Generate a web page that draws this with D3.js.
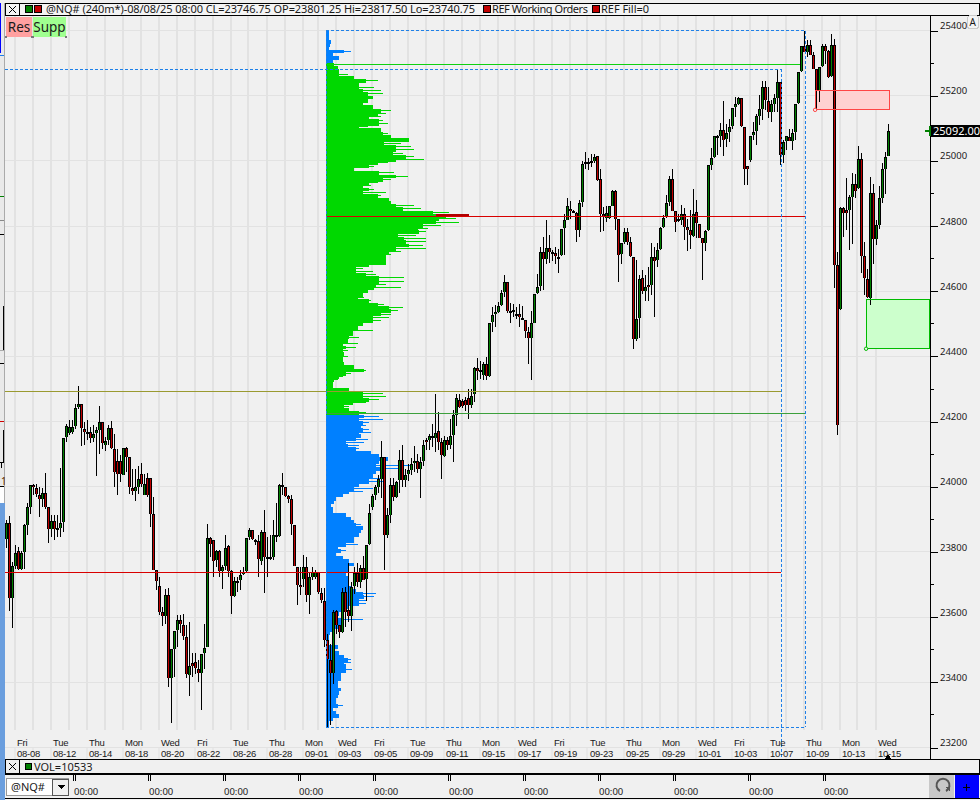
<!DOCTYPE html>
<html><head><meta charset="utf-8">
<script src="https://cdn.jsdelivr.net/npm/d3@7/dist/d3.min.js"></script>
<style>html,body{margin:0;padding:0;background:#f0f0f0}svg{display:block}text{font-family:"Noto Sans",Tahoma,sans-serif;fill:#1a1a1a}</style>
</head><body><div id="c"></div>
<script>
const dayNames=["Fri","Tue","Thu","Mon","Wed","Fri","Tue","Thu","Mon","Wed","Fri","Tue","Thu","Mon","Wed","Fri","Tue","Thu","Mon","Wed","Fri","Tue","Thu","Mon","Wed"];
const dateNames=["08-08","08-12","08-14","08-18","08-20","08-22","08-26","08-28","09-01","09-03","09-05","09-09","09-11","09-15","09-17","09-19","09-23","09-25","09-29","10-01","10-03","10-07","10-09","10-13","10-15"];
const dateBars=[3,15,27,39,51,63,75,87,99,110,122,134,146,158,170,182,194,206,218,230,242,254,266,278,290];
const priceTicks=[25400,25200,25000,24800,24600,24400,24200,24000,23800,23600,23400,23200];
const minorTicks=[25300,25100,24900,24700,24500,24300,24100,23900,23700,23500,23300];
const timeLabels=["00:00","00:00","00:00","00:00","00:00","00:00","00:00","00:00","00:00","00:00","00:00"];

// [open, high, low, close] per 240-minute bar
const ohlcAug=[[23831,23887,23801,23880],[23880,23900,23609,23649],[23649,23760,23557,23748],[23748,23811,23739,23788],[23792,23806,23734,23738],[23738,23793,23736,23788],[23790,23877,23739,23872],[23873,23939,23841,23927],[23928,23994,23906,23994],[23994,23998,23964,23988],[23985,24000,23959,23967],[23966,23990,23898,23953],[23953,23985,23928,23972],[23972,24031,23923,23928],[23927,23927,23818,23859],[23860,23903,23836,23886],[23886,23903,23826,23860],[23862,23903,23836,23859],[23862,24049,23836,23880],[23882,24141,23852,24141],[24143,24182,24128,24178],[24156,24194,24148,24172],[24158,24194,24153,24172],[24177,24245,24166,24233],[24235,24299,24230,24245],[24245,24245,24116,24169],[24166,24189,24118,24158],[24158,24194,24133,24157],[24158,24174,24125,24141],[24141,24179,24128,24153],[24155,24174,24022,24163],[24164,24237,24090,24190],[24190,24190,24107,24123],[24119,24143,24100,24129],[24134,24179,24118,24169],[24169,24192,24107,24109],[24107,24153,23990,24036],[24068,24107,23964,24028],[24068,24087,24005,24028],[24025,24110,24025,24110],[24108,24112,24036,24082],[24080,24082,23969,23990],[23985,24046,23964,23977],[23977,24046,23947,23988],[23990,24053,23969,24015],[24028,24063,23990,23998],[23965,24028,23964,23997],[24017,24031,23959,23964],[24017,24017,23867,23907],[23905,23959,23734,23734],[23734,23734,23673,23702],[23687,23712,23596,23606],[23606,23621,23563,23595],[23595,23676,23570,23659],[23659,23678,23376,23402],[23404,23491,23264,23491],[23493,23546,23407,23546],[23550,23596,23499,23580],[23580,23596,23540,23569],[23567,23601,23519,23532],[23530,23565,23402,23416],[23413,23575,23348,23441],[23448,23480,23407,23441],[23451,23480,23417,23435],[23432,23460,23391,23419],[23419,23478,23306,23478],[23480,23570,23432,23494],[23499,23877,23499,23834],[23834,23836,23775,23813],[23828,23828,23714,23763],[23765,23795,23744,23792],[23792,23795,23714,23732],[23733,23749,23675,23745],[23747,23843,23734,23803],[23808,23811,23714,23732],[23732,23734,23601,23656],[23654,23714,23652,23702],[23702,23714,23668,23700],[23705,23734,23673,23720],[23723,23744,23719,23730],[23732,23834,23729,23834],[23835,23862,23828,23856],[23856,23857,23826,23831],[23828,23831,23811,23826],[23824,23841,23714,23767],[23763,23857,23749,23850],[23850,23918,23664,23775],[23775,23836,23714,23772],[23771,23841,23765,23776],[23773,23889,23765,23842],[23842,23939,23821,23839],[23840,24000,23836,23994],[23994,24031,23964,23992],[23988,23990,23959,23963],[23961,23964,23939,23953],[23951,23964,23841,23876],[23874,23874,23747,23747],[23745,23745,23627,23689],[23688,23744,23657,23683],[23707,23780,23683,23744],[23744,23775,23637,23659],[23659,23729,23601,23712],[23712,23744,23703,23729],[23714,23734,23708,23730],[23730,23730,23662,23667],[23665,23678,23634,23642],[23641,23678,23499,23519]];
const ohlcSep=[[23519,23538,23253,23462],[23458,23507,23258,23419],[23419,23613,23384,23607],[23610,23613,23538,23566],[23565,23565,23526,23545],[23545,23680,23540,23667],[23667,23683,23560,23607],[23611,23755,23576,23595],[23594,23698,23548,23684],[23686,23744,23660,23724],[23726,23757,23681,23698],[23699,23749,23678,23741],[23742,23777,23703,23703],[23708,23811,23640,23811],[23813,23936,23811,23911],[23928,23969,23918,23963],[23965,23995,23949,23988],[23990,24026,23971,24013],[24015,24129,23956,24080],[24080,24080,23734,23842],[23842,23925,23832,23902],[23904,24018,23879,23994],[23996,24018,23947,23960],[23959,24008,23957,24006],[24012,24104,23971,24073],[24073,24118,23988,24012],[24012,24046,23988,24025],[24029,24061,24008,24041],[24042,24077,24026,24061],[24064,24115,24036,24070],[24070,24090,24031,24045],[24045,24082,23956,24067],[24070,24135,24054,24117],[24132,24140,24102,24128],[24135,24153,24104,24147],[24147,24182,24112,24143],[24139,24274,24097,24155],[24160,24220,24102,24128],[24126,24141,24014,24089],[24083,24145,24082,24135],[24135,24143,24102,24117],[24117,24199,24107,24146],[24150,24225,24066,24209],[24209,24274,24176,24261],[24256,24274,24233,24235],[24254,24258,24233,24237],[24256,24266,24223,24240],[24262,24291,24197,24242],[24242,24291,24232,24270],[24276,24358,24251,24353],[24353,24386,24317,24346],[24346,24375,24322,24348],[24332,24373,24319,24368],[24368,24389,24317,24330],[24329,24494,24327,24494],[24495,24542,24465,24518],[24519,24547,24481,24527],[24527,24557,24524,24546],[24547,24593,24545,24586],[24588,24639,24573,24617],[24617,24617,24524,24529],[24529,24554,24493,24526],[24531,24552,24511,24529],[24521,24542,24506,24518],[24521,24552,24481,24511],[24509,24544,24504,24504],[24503,24503,24447,24468],[24466,24481,24368,24448],[24448,24530,24317,24491],[24491,24583,24491,24583],[24585,24644,24583,24604],[24606,24726,24590,24709],[24709,24757,24593,24689],[24689,24808,24675,24724],[24724,24762,24677,24709],[24709,24716,24683,24707],[24706,24726,24675,24698],[24696,24721,24646,24693],[24700,24782,24697,24782],[24784,24828,24700,24808],[24810,24877,24808,24853],[24841,24867,24813,24836],[24835,24839,24830,24833],[24831,24833,24741,24779],[24779,24871,24757,24862],[24864,24990,24849,24979],[24987,25018,24966,24982],[24985,25000,24963,24983],[24990,25010,24971,24987],[24990,25012,24982,25003],[25006,25006,24929,24931],[24933,24966,24772,24828],[24826,24847,24775,24820]];
const ohlcOct=[[24816,24851,24803,24830],[24816,24853,24813,24853],[24853,24902,24851,24896],[24896,24902,24777,24812],[24812,24812,24619,24702],[24703,24739,24673,24739],[24741,24785,24736,24773],[24773,24785,24731,24741],[24742,24757,24695,24698],[24696,24696,24414,24444],[24444,24687,24438,24506],[24508,24639,24445,24626],[24632,24656,24583,24590],[24591,24639,24560,24603],[24608,24665,24560,24603],[24608,24739,24578,24696],[24696,24726,24511,24684],[24685,24738,24665,24718],[24720,24787,24716,24785],[24787,24823,24785,24816],[24818,24885,24816,24862],[24864,24943,24851,24933],[24933,24966,24835,24836],[24835,24835,24772,24803],[24813,24828,24803,24810],[24810,24854,24792,24826],[24828,24844,24746,24787],[24786,24813,24714,24777],[24777,24839,24721,24763],[24759,24905,24757,24828],[24834,24869,24752,24798],[24795,24795,24752,24752],[24752,24752,24624,24738],[24738,24777,24714,24775],[24777,24976,24775,24976],[24977,25028,24963,25000],[25002,25065,25000,25065],[25065,25068,25007,25063],[25065,25107,25033,25086],[25086,25173,25005,25053],[25058,25104,25033,25077],[25079,25117,25048,25095],[25096,25152,25089,25151],[25155,25186,25125,25163],[25165,25186,25161,25184],[25184,25184,25094,25096],[25095,25095,24915,24966],[24974,24974,24915,24966],[24992,25067,24985,25067],[25068,25109,25053,25080],[25082,25135,25038,25127],[25128,25191,25099,25148],[25150,25234,25115,25218],[25218,25234,25145,25176],[25175,25217,25120,25140],[25140,25176,25109,25166],[25166,25196,25140,25182],[25184,25268,25140,25233],[25233,25233,24976,25009],[25009,25053,24984,25047],[25051,25065,25022,25065],[25063,25089,25051,25051],[25051,25089,25022,25077],[25079,25166,25053,25166],[25168,25264,25166,25264],[25266,25343,25262,25343],[25343,25387,25324,25324],[25324,25360,25308,25346],[25346,25360,25314,25316],[25314,25324,25273,25273],[25271,25271,25150,25208],[25208,25279,25172,25279],[25281,25349,25278,25343],[25343,25349,25288,25326],[25326,25329,25245,25247],[25249,25380,25247,25346],[25346,25365,24599,24670],[24669,24709,24148,24181],[24534,24847,24532,24844],[24844,24847,24757,24831],[24839,24936,24777,24829],[24839,24885,24716,24878],[24880,24953,24735,24918],[24918,24951,24875,24898],[24907,25035,24905,24997],[24997,25015,24645,24699],[24697,24742,24578,24632],[24629,24658,24568,24571],[24568,24941,24547,24890],[24890,24919,24675,24749],[24749,24808,24731,24792],[24794,24912,24781,24875],[24877,24984,24861,24964],[24965,25016,24888,25003],[25006,25103,25005,25083]];
const readingOffset=10; // values above were read against the label centres, which sit 10 points below the tick marks

// Volume profile, top row to bottom row: solid width and thin-spike width per price row
const profileVol=[8,8,8,15,12,10,55,20,38,22,25,35,40,40,85,120,100,100,110,125,140,125,110,140,165,155,130,160,160,100,165,170,195,250,175,210,210,200,240,210,155,130,85,160,210,170,130,110,130,110,155,190,195,210,230,320,360,340,330,290,
275,280,215,235,240,250,210,190,180,180,180,130,90,90,120,160,160,150,145,125,110,95,130,155,190,195,165,140,140,110,95,80,80,70,65,50,60,50,55,50,50,55,85,115,60,40,25,22,20,70,110,110,130,80,55,
70,100,115,100,110,105,110,100,105,90,60,65,90,135,160,185,160,150,165,150,140,130,130,100,85,70,50,30,25,15,20,20,60,75,85,90,110,105,100,85,85,60,35,45,30,50,70,85,70,70,60,65,65,65,75,90,110,115,100,100,70,45,40,35,55,50,40,20,12,10,10,10,35,25,40,55,65,55,60,60,45,45,45,35,35,45,40,35,30,30,35,20,30,40,20,10,8];
const profileSpike=[0,0,0,0,0,0,75,0,0,0,0,0,0,65,0,155,0,145,165,170,0,0,0,0,195,180,165,170,185,125,0,185,0,0,225,255,265,230,265,295,185,145,0,205,245,195,155,135,145,180,165,0,0,265,285,370,0,390,400,345,
305,300,270,300,300,290,300,225,195,0,0,180,110,140,150,235,235,180,225,0,0,115,135,175,230,215,195,190,165,0,0,140,0,100,0,95,90,65,0,65,0,0,0,120,75,50,35,0,0,0,170,180,160,120,70,
0,120,160,170,130,120,130,135,0,125,115,100,100,115,0,0,0,260,235,0,0,170,175,0,140,110,0,0,0,0,0,0,60,0,0,105,0,0,0,0,0,95,0,60,0,0,0,0,0,0,0,0,0,0,0,0,150,145,120,120,0,0,0,0,110,0,0,0,0,0,0,0,0,0,0,0,75,75,0,78,60,0,0,0,0,0,0,0,0,0,50,0,0,0,0,0,0];
const profileHigh=25402, profileLow=23263, valueAreaHigh=25300, valueAreaLow=24220;
const pocPrice=24830, pocVolFrom=330, pocVolTo=430;

const W=980,H=800;
const x=d3.scaleLinear().domain([0,294]).range([6.5,888.5]);
const y=d3.scaleLinear().domain([25400,23200]).range([30.5,747.5]);
const vol=d3.scaleLinear().domain([0,1000]).range([0,333]);
const candles=[...ohlcAug,...ohlcSep,...ohlcOct].map(r=>r.map(v=>v+readingOffset));
const svg=d3.select("#c").append("svg").attr("width",W).attr("height",H).attr("viewBox",[0,0,W,H]).style("shape-rendering","crispEdges");

// grid
const gridBars=d3.range(3,100,6).concat([104],d3.range(110,291,6));
const g=svg.append("g");
g.selectAll("rect.v").data(gridBars).join("rect").attr("class","v").attr("x",d=>Math.round(x(d))-2).attr("y",16).attr("width",2).attr("height",714).attr("fill","#e2e2e2");
g.selectAll("rect.v2").data(gridBars).join("rect").attr("class","v2").attr("x",d=>Math.round(x(d))-2).attr("y",748).attr("width",2).attr("height",11).attr("fill","#e8e8e8");
g.selectAll("line.h").data(priceTicks).join("line").attr("class","h").attr("x1",5).attr("x2",930).attr("y1",d=>y(d)).attr("y2",d=>y(d)).attr("stroke","#e2e2e2");

// volume profile
const baseBar=106.5, base=x(baseBar);
const rowPts=(profileHigh-profileLow)/profileVol.length;
const rowY=i=>y(profileHigh-i*rowPts);
const rowColor=i=>{const p=profileHigh-(i+.5)*rowPts;return (p<valueAreaHigh&&p>valueAreaLow)?"#00d800":"#0080ff";};
const prof=svg.append("g");
prof.selectAll("rect.b").data(profileVol).join("rect").attr("class","b").attr("x",base).attr("y",(d,i)=>rowY(i)).attr("width",d=>vol(d)).attr("height",rowPts*(y(0)-y(1))+.5).attr("fill",(d,i)=>rowColor(i));
prof.selectAll("rect.s").data(profileSpike).join("rect").attr("class","s").attr("x",base).attr("y",(d,i)=>rowY(i)+1).attr("width",d=>vol(d)).attr("height",1).attr("fill",(d,i)=>rowColor(i));
svg.append("rect").attr("x",base+vol(pocVolFrom)).attr("y",y(pocPrice)-2).attr("width",vol(pocVolTo-pocVolFrom)).attr("height",2).attr("fill","#b00000");

// zones
const zones=[{hi:25217,lo:25158,from:269.7,to:294.3,fill:"#ffd0d0",stroke:"#ff4444"},{hi:24575,lo:24425,from:286.7,to:307.5,fill:"#ccffcc",stroke:"#00bb00"}];
svg.selectAll("rect.z").data(zones).join("rect").attr("class","z").attr("x",d=>x(d.from)).attr("y",d=>y(d.hi)).attr("width",d=>x(d.to)-x(d.from)).attr("height",d=>y(d.lo)-y(d.hi)).attr("fill",d=>d.fill);

// candles
const cg=svg.append("g");
cg.selectAll("rect.w").data(candles).join("rect").attr("class","w").attr("x",(d,i)=>Math.floor(x(i))).attr("y",d=>y(d[1])).attr("width",1).attr("height",d=>Math.max(1,y(d[2])-y(d[1]))).attr("fill","#000");
cg.selectAll("rect.o").data(candles).join("rect").attr("class","o").attr("x",(d,i)=>Math.floor(x(i))-1).attr("y",d=>y(Math.max(d[0],d[3]))).attr("width",3).attr("height",d=>Math.max(2,y(Math.min(d[0],d[3]))-y(Math.max(d[0],d[3])))).attr("fill","#000");
cg.selectAll("rect.f").data(candles).join("rect").attr("class","f").attr("x",(d,i)=>Math.floor(x(i))).attr("y",d=>y(Math.max(d[0],d[3]))+1).attr("width",1).attr("height",d=>Math.max(0,y(Math.min(d[0],d[3]))-y(Math.max(d[0],d[3]))-1)).attr("fill",d=>d[3]>=d[0]?"#008000":"#c00000");

// level lines
const levels=[{p:24830,a:106.67,b:266.2,c:"#d80000",w:1.5},{p:23737,a:-.5,b:258.2,c:"#d80000",w:1.5},{p:24293,a:-.5,b:258.2,c:"#9a9a30",w:1},{p:24226,a:106.67,b:266.2,c:"#3ca03c",w:1},{p:25296,a:106.67,b:264.5,c:"#10d010",w:1.5}];
svg.selectAll("line.l").data(levels).join("line").attr("class","l").attr("x1",d=>x(d.a)).attr("x2",d=>x(d.b)).attr("y1",d=>y(d.p)).attr("y2",d=>y(d.p)).attr("stroke",d=>d.c).attr("stroke-width",d=>d.w);
// dashed ranges
const dashes=[{a:106.5,b:266.3,p1:25400,p2:25400},{a:106.5,b:266.3,p1:23262,p2:23262},{a:266.3,b:266.3,p1:25400,p2:23262},{a:106.5,b:106.5,p1:25400,p2:23262},{a:-.5,b:258.3,p1:25281,p2:25281},{a:258.3,b:258.3,p1:25281,p2:23160}];
svg.selectAll("line.d").data(dashes).join("line").attr("class","d").attr("x1",d=>x(d.a)).attr("x2",d=>x(d.b)).attr("y1",d=>y(d.p1)).attr("y2",d=>y(d.p2)).attr("stroke","#1e80e8").attr("stroke-dasharray","3,2");
// zone outlines and anchors
svg.selectAll("rect.zo").data(zones).join("rect").attr("class","zo").attr("x",d=>x(d.from)).attr("y",d=>y(d.hi)).attr("width",d=>x(d.to)-x(d.from)).attr("height",d=>y(d.lo)-y(d.hi)).attr("fill","none").attr("stroke",d=>d.stroke).attr("stroke-width",1);
svg.selectAll("circle.zc").data(zones).join("circle").attr("class","zc").attr("cx",d=>x(d.from)-.5).attr("cy",d=>y(d.lo)+.5).attr("r",1.7).attr("fill","#f0f0f0").attr("stroke",d=>d.stroke).style("shape-rendering","auto");

// date axis labels
const xa=svg.append("g").style("font-size","9.5px").style("letter-spacing","-0.25px");
xa.selectAll("text.dn").data(dayNames).join("text").attr("class","dn").attr("x",(d,i)=>x(dateBars[i])+1.5).attr("y",746).style("font-family",'"Liberation Sans"').text(d=>d);
xa.selectAll("text.dd").data(dateNames).join("text").attr("class","dd").attr("x",(d,i)=>x(dateBars[i])+1.5).attr("y",757).style("font-family",'"Liberation Sans"').text(d=>d);

// price axis
svg.append("rect").attr("x",930).attr("y",15).attr("width",50).attr("height",745).attr("fill","#f0f0f0");
const ax=svg.append("g").attr("transform","translate(930,0)").call(d3.axisRight(y).tickValues(priceTicks).tickSize(8).tickPadding(2).tickFormat(d3.format("d")));
ax.select(".domain").remove();
ax.selectAll("text").attr("dy","-0.2em").style("font-size","9.5px").style("font-family",'"Noto Sans"');
ax.selectAll("line").attr("stroke","#000");
svg.selectAll("line.mt").data(minorTicks).join("line").attr("class","mt").attr("x1",930).attr("x2",934).attr("y1",d=>y(d)).attr("y2",d=>y(d)).attr("stroke","#000");
svg.append("rect").attr("x",929.5).attr("y",15).attr("width",1).attr("height",745).attr("fill","#000");
// last price tag
const lastClose=25092;
svg.append("rect").attr("x",931).attr("y",y(lastClose)-6).attr("width",49).attr("height",12).attr("fill","#000");
svg.append("text").attr("x",933).attr("y",y(lastClose)+4).attr("font-size",11).style("fill","#fff").text(d3.format(".2f")(lastClose));
svg.append("rect").attr("x",925).attr("y",y(lastClose)-1).attr("width",5).attr("height",2).attr("fill","#008000");
svg.append("rect").attr("x",929).attr("y",y(lastClose)-5).attr("width",2).attr("height",10).attr("fill","#008000");
svg.append("path").attr("d","M884 760l4-6 4 6z").attr("fill","#000");

// left edge leftovers of the neighbouring pane
const leftEdge=[[0,0,4,503,"#e9e9e9"],[0,487,4,16,"#ffffff"],[0,503,5,297,"#6a9ede"],[0,0,1,53,"#0000ff"],[0,55,4,1,"#1e80e8"],[0,196,4,1,"#008000"],[0,220,4,1,"#888"],[0,234,4,1,"#000"],[3,306,2,44,"#000"],[3.6,307,1,42,"#c00000"],[0,350,4,1,"#aaa"],[0,363,4,1,"#000"],[0,421,4,1,"#d00000"],[3,430,2,32,"#000"],[3.6,431,1,30,"#c00000"],[0,462,4,1,"#000"],[1,462,1,6,"#000"],[0,486,5,1,"#000"],[4,0,1,503,"#aaaaaa"]];
svg.selectAll("rect.le").data(leftEdge).join("rect").attr("class","le").attr("x",d=>d[0]).attr("y",d=>d[1]).attr("width",d=>d[2]).attr("height",d=>d[3]).attr("fill",d=>d[4]);
svg.append("text").attr("x",1).attr("y",485).attr("font-size",10).style("fill","#5a2a00").text("1");

// header
const hd=svg.append("g");
hd.append("rect").attr("x",5.5).attr("y",3.5).attr("width",974).attr("height",12).attr("fill","#f4f4f4").attr("stroke","#000");
hd.append("rect").attr("x",0).attr("y",0).attr("width",980).attr("height",3).attr("fill","#f0f0f0");
hd.append("line").attr("x1",19.5).attr("x2",19.5).attr("y1",3).attr("y2",15).attr("stroke","#000");
hd.append("path").attr("d","M9 6l7 7M16 6l-7 7").attr("stroke","#000").attr("fill","none").style("shape-rendering","auto");
[[25,5,"#008000"],[34,5,"#c00000"],[483,5,"#c00000"],[592,5,"#c00000"]].forEach(d=>hd.append("rect").attr("x",d[0]).attr("y",d[1]).attr("width",7).attr("height",7).attr("fill",d[2]).attr("stroke","#000").attr("stroke-width",1));
hd.append("text").attr("x",46).attr("y",13).attr("font-size",11).attr("textLength",429).attr("lengthAdjust","spacing").text("@NQ# (240m*)-08/08/25 08:00 CL=23746.75 OP=23801.25 Hi=23817.50 Lo=23740.75");
hd.append("text").attr("x",492).attr("y",13).attr("font-size",11).attr("textLength",96).text("REF Working Orders");
hd.append("text").attr("x",601).attr("y",13).attr("font-size",11).attr("textLength",48).text("REF Fill=0");
hd.append("rect").attr("x",967.5).attr("y",15.5).attr("width",11).attr("height",13).attr("rx",3).attr("fill","#f4f4f4").attr("stroke","#ccc");
hd.append("text").attr("x",969.5).attr("y",26).attr("font-size",10).text("A");

// Res / Supp buttons
const btns=[{t:"Res",x:6,w:26,c:"#ffa0a0"},{t:"Supp",x:33,w:33,c:"#a0ff90"}];
svg.selectAll("rect.bt").data(btns).join("rect").attr("class","bt").attr("x",d=>d.x).attr("y",17).attr("width",d=>d.w).attr("height",20).attr("fill",d=>d.c);
svg.selectAll("text.bt").data(btns).join("text").attr("class","bt").attr("x",d=>d.x+d.w/2).attr("y",32).attr("text-anchor","middle").attr("font-size",13.5).text(d=>d.t);
[6,32,33,66].forEach(v=>svg.append("rect").attr("x",v-1).attr("y",36).attr("width",2).attr("height",2).attr("fill","#777"));

// volume strip and scroll bar
const bt=svg.append("g");
bt.append("rect").attr("x",5).attr("y",759).attr("width",975).attr("height",41).attr("fill","#f0f0f0");
bt.append("rect").attr("x",5).attr("y",759).attr("width",975).attr("height",1).attr("fill","#000");
bt.append("rect").attr("x",5).attr("y",773).attr("width",975).attr("height",2).attr("fill","#000");
bt.append("rect").attr("x",5).attr("y",798).attr("width",975).attr("height",1).attr("fill","#000");
bt.append("rect").attr("x",5).attr("y",759).attr("width",1).attr("height",15).attr("fill","#000");
bt.append("rect").attr("x",979).attr("y",759).attr("width",1).attr("height",15).attr("fill","#000");
bt.append("line").attr("x1",19.5).attr("x2",19.5).attr("y1",760).attr("y2",773).attr("stroke","#000");
bt.append("path").attr("d","M9 763l7 7M16 763l-7 7").attr("stroke","#000").attr("fill","none").style("shape-rendering","auto");
bt.append("rect").attr("x",25.5).attr("y",763.5).attr("width",6).attr("height",6).attr("fill","#008000").attr("stroke","#000");
bt.append("text").attr("x",34).attr("y",771).attr("font-size",11).text("VOL=10533");
bt.append("rect").attr("x",6.5).attr("y",778.5).attr("width",62).attr("height",17).attr("fill","#fff").attr("stroke","#999");
bt.append("text").attr("x",11).attr("y",791).attr("font-size",11).text("@NQ#");
bt.append("rect").attr("x",52.5).attr("y",779.5).attr("width",16).attr("height",16).attr("fill","#f0f0f0").attr("stroke","#555");
bt.append("path").attr("d","M57 785h8l-4 4z").attr("fill","#000");
bt.selectAll("text.tl").data(timeLabels).join("text").attr("class","tl").attr("x",(d,i)=>74+i*75).attr("y",795).attr("font-size",9.5).text(d=>d);
bt.selectAll("rect.t1").data(timeLabels).join("rect").attr("class","t1").attr("x",(d,i)=>73+i*75).attr("y",775).attr("width",1).attr("height",6).attr("fill","#000");
bt.selectAll("rect.t2").data(timeLabels).join("rect").attr("class","t2").attr("x",(d,i)=>75+i*75).attr("y",775).attr("width",1).attr("height",6).attr("fill","#000");
bt.append("rect").attr("x",929).attr("y",775).attr("width",25).attr("height",23).attr("fill","#c8c8c8");
bt.append("path").attr("d","M946 791a6.5 6.5 0 1 0 -6 0").attr("fill","none").attr("stroke","#555").attr("stroke-width",2).style("shape-rendering","auto");
bt.append("path").attr("d","M945 787l5 0 0 5z").attr("fill","#555");
bt.append("rect").attr("x",955).attr("y",775).attr("width",24).attr("height",23).attr("fill","#0000ff");
bt.append("path").attr("d","M963 787h7M966.5 783.5v7").attr("stroke","#000");
</script></body></html>
